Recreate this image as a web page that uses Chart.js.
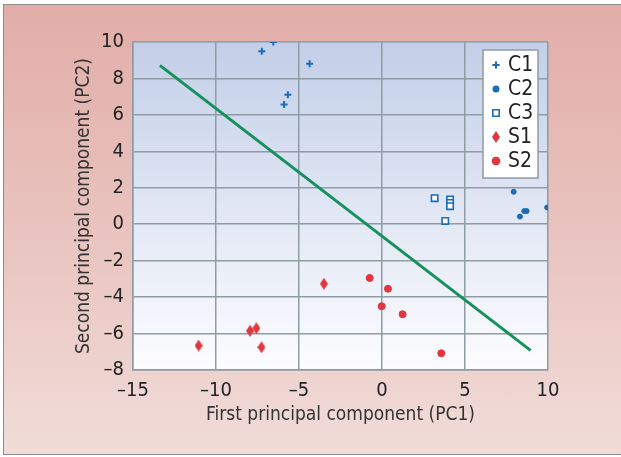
<!DOCTYPE html>
<html>
<head>
<meta charset="utf-8">
<script src="https://cdn.jsdelivr.net/npm/chart.js@4.4.1/dist/chart.umd.min.js"></script>
<style>
  html,body{margin:0;padding:0;background:#fff;}
  #wrap{position:relative;width:621px;height:457px;overflow:hidden;}
  #frame{position:absolute;left:3px;top:4px;width:640px;height:449px;
    border:1.5px solid #8c8c8c;
    background:linear-gradient(to bottom,#e2ada8 0%,#e9c3bf 50%,#f1dcd8 100%);}
  canvas{position:absolute;left:0;top:0;}
</style>
</head>
<body>
<div id="wrap">
  <div id="frame"></div>
  <canvas id="c" width="621" height="457"></canvas>
</div>
<script>
// datos (PC1, PC2)
const c1X=[-7.24,-6.55,-4.36,-5.67,-5.9];
const c1Y=[9.49,10.0,8.81,7.1,6.57];
const c2X=[7.93,8.31,8.57,8.71,9.95];
const c2Y=[1.78,0.42,0.72,0.72,0.92];
const c3X=[3.17,4.1,4.1,4.1,3.81];
const c3Y=[1.43,1.36,1.17,0.99,0.18];
const s1X=[-11.05,-7.95,-7.57,-7.26,-3.5];
const s1Y=[-6.66,-5.85,-5.71,-6.75,-3.27];
const s2X=[-0.74,0.36,-0.02,1.24,3.57];
const s2Y=[-2.95,-3.54,-4.5,-4.94,-7.08];
const lineX=[-13.38,8.95];
const lineY=[8.72,-6.92];
const legendNames=['C1','C2','C3','S1','S2'];

const BLUE='#1a6cb8', RED='#e0363d', GREEN='#14915c';
const FONT="'Liberation Sans Narrow','DejaVu Sans Condensed',sans-serif";

const pts=(xs,ys)=>xs.map((x,i)=>({x:x,y:ys[i]}));

// rombo alargado para S1
const diamond=document.createElement('canvas');
diamond.width=8;diamond.height=12;
(function(){const g=diamond.getContext('2d');g.fillStyle=RED;g.beginPath();
  g.moveTo(4,0);g.lineTo(8,6);g.lineTo(4,12);g.lineTo(0,6);g.closePath();g.fill();})();

const plotBg={id:'plotBg',beforeDraw(ch){
  const a=ch.chartArea,ctx=ch.ctx;
  const gr=ctx.createLinearGradient(0,a.top,0,a.bottom);
  gr.addColorStop(0,'#c3cfe8');gr.addColorStop(1,'#fdfdff');
  ctx.save();ctx.fillStyle=gr;ctx.fillRect(a.left,a.top,a.right-a.left,a.bottom-a.top);ctx.restore();
}};

// leyenda dentro del área del gráfico
const boxLegend={id:'boxLegend',afterDraw(ch){
  const ctx=ch.ctx;
  const bx=483,by=50,bw=55,bh=128;
  ctx.save();
  ctx.fillStyle='#fff';ctx.fillRect(bx,by,bw,bh);
  ctx.strokeStyle='#8e9ca3';ctx.lineWidth=1.5;ctx.strokeRect(bx,by,bw,bh);
  ctx.font='21px '+FONT;ctx.textBaseline='middle';ctx.fillStyle='#222';
  ch.data.datasets.slice(0,5).forEach((ds,i)=>{
    const y=65+i*24;
    Chart.helpers.drawPoint(ctx,{pointStyle:ds.pointStyle,radius:ds.pointRadius,rotation:0,borderWidth:ds.borderWidth},496,y);
    ctx.fillStyle=ds.backgroundColor;ctx.strokeStyle=ds.borderColor;ctx.lineWidth=ds.borderWidth;
    if(typeof ds.pointStyle==='string'){
      ctx.beginPath();
      Chart.helpers.drawPoint(ctx,{pointStyle:ds.pointStyle,radius:ds.pointRadius,rotation:0,borderWidth:ds.borderWidth},496,y);
    }
    ctx.fillStyle='#222';
    ctx.fillText(legendNames[i],508,y+1);
  });
  ctx.restore();
}};

const dash=v=>String(v).replace('-','\u2013');

new Chart(document.getElementById('c'),{
  type:'scatter',
  data:{datasets:[
    {label:'C1',data:pts(c1X,c1Y),pointStyle:'cross',pointRadius:3.5,borderWidth:2,borderColor:BLUE,backgroundColor:BLUE},
    {label:'C2',data:pts(c2X,c2Y),pointStyle:'circle',pointRadius:2.5,borderWidth:1,borderColor:BLUE,backgroundColor:BLUE},
    {label:'C3',data:pts(c3X,c3Y),pointStyle:'rect',pointRadius:4.5,borderWidth:1.6,borderColor:BLUE,backgroundColor:'#fff'},
    {label:'S1',data:pts(s1X,s1Y),pointStyle:diamond,pointRadius:5,borderWidth:0,borderColor:RED,backgroundColor:RED},
    {label:'S2',data:pts(s2X,s2Y),pointStyle:'circle',pointRadius:3.5,borderWidth:1,borderColor:RED,backgroundColor:RED},
    {label:'line',data:pts(lineX,lineY),showLine:true,pointRadius:0,borderColor:GREEN,borderWidth:3}
  ]},
  options:{responsive:false,animation:false,
    layout:{padding:{left:73,top:42,right:73,bottom:31}},
    plugins:{legend:{display:false},tooltip:{enabled:false}},
    scales:{
      x:{type:'linear',min:-15,max:10,
        afterFit:s=>{s.height=56;},
        grid:{color:'#8e9ca3',lineWidth:1.5,drawTicks:false},
        border:{color:'#8e9ca3',width:1.5},
        ticks:{stepSize:5,padding:9,color:'#222',font:{family:FONT,size:20},callback:v=>dash(v)},
        title:{display:true,text:'First principal component (PC1)',color:'#333',font:{family:FONT,size:19},padding:0}},
      y:{type:'linear',min:-8,max:10,
        afterFit:s=>{s.width=60;},
        grid:{color:'#8e9ca3',lineWidth:1.5,drawTicks:false},
        border:{color:'#8e9ca3',width:1.5},
        ticks:{stepSize:2,padding:9,color:'#222',font:{family:FONT,size:20},callback:v=>dash(v)},
        title:{display:true,text:'Second principal component (PC2)',color:'#333',font:{family:FONT,size:19},padding:0}}
    }},
  plugins:[plotBg,boxLegend]
});
</script>
</body>
</html>
